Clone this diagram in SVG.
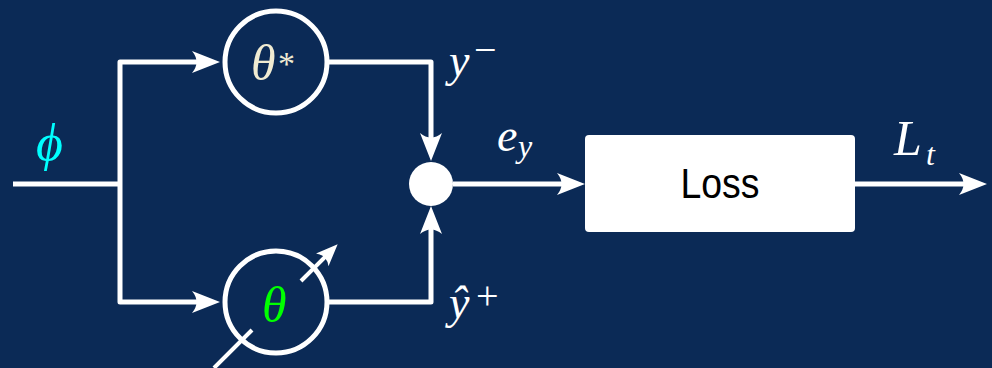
<svg xmlns="http://www.w3.org/2000/svg" width="992" height="368" viewBox="0 0 992 368">
<defs>
<style>
.wire{fill:none;stroke:#fff;stroke-width:5;stroke-linejoin:round}
.ring{fill:none;stroke:#fff;stroke-width:5}
.m{font-family:"Liberation Serif","DejaVu Serif",serif;font-style:italic;font-size:46px;fill:#fff}
.s{font-family:"Liberation Serif","DejaVu Serif",serif;font-size:30px;fill:#fff}
</style>
<marker id="ah" markerUnits="userSpaceOnUse" viewBox="0 0 28 22" markerWidth="28" markerHeight="22" refX="20" refY="11" orient="auto">
<path d="M28,11 L0,0 Q9,11 0,22 Z" fill="#fff"/>
</marker>
<marker id="ahs" markerUnits="userSpaceOnUse" viewBox="0 0 22 18" markerWidth="22" markerHeight="18" refX="14" refY="9" orient="auto">
<path d="M22,9 L0,0 Q7,9 0,18 Z" fill="#fff"/>
</marker>
</defs>
<rect width="992" height="368" fill="#0b2a56"/>
<g id="connectors">
<path class="wire" d="M13,184 H120"/>
<path class="wire" d="M120,184 V62 H212" marker-end="url(#ah)"/>
<path class="wire" d="M120,184 V302 H212" marker-end="url(#ah)"/>
<path class="wire" d="M329,62 H431 V153" marker-end="url(#ah)"/>
<path class="wire" d="M329,302 H431 V214" marker-end="url(#ah)"/>
<path class="wire" d="M453,184 H577" marker-end="url(#ah)"/>
<path class="wire" d="M855,184 H979" marker-end="url(#ah)"/>
</g>
<g id="input-label">
<text x="36" y="160" class="m" style="fill:#00ffff;font-size:52px">ϕ</text>
</g>
<g id="theta-star">
<circle class="ring" cx="276" cy="62" r="51"/>
<text x="251" y="80" class="m" style="fill:#f0ebd2;font-size:50px">θ</text>
<text x="278" y="75" class="s" style="fill:#f0ebd2;font-size:34px">*</text>
</g>
<g id="theta">
<circle class="ring" cx="276" cy="302" r="51"/>
<path d="M214,368 L252,330" stroke="#fff" stroke-width="4" fill="none"/>
<path d="M301,281 L332,250" stroke="#fff" stroke-width="4" fill="none" marker-end="url(#ahs)"/>
<text x="262" y="322" class="m" style="fill:#00ff00;font-size:50px">θ</text>
</g>
<g id="junction">
<circle cx="431" cy="184" r="22" fill="#fff"/>
</g>
<g id="loss">
<rect x="585" y="135" width="270" height="97" rx="4" fill="#fff"/>
<text x="720" y="198" text-anchor="middle" font-family="Liberation Sans, Arial, sans-serif" font-size="42" fill="#000" textLength="79" lengthAdjust="spacingAndGlyphs">Loss</text>
</g>
<g id="labels">
<text x="449" y="76" class="m">y</text>
<text x="474" y="63" class="s" style="font-size:40px">−</text>
<text x="449" y="318" class="m">ŷ</text>
<text x="476" y="309" class="s" style="font-size:40px">+</text>
<text x="497" y="151" class="m">e</text>
<text x="518" y="157" class="m" style="font-size:32px">y</text>
<text x="894" y="155" class="m" style="font-size:50px">L</text>
<text x="926" y="165" class="m" style="font-size:32px">t</text>
</g>
</svg>
